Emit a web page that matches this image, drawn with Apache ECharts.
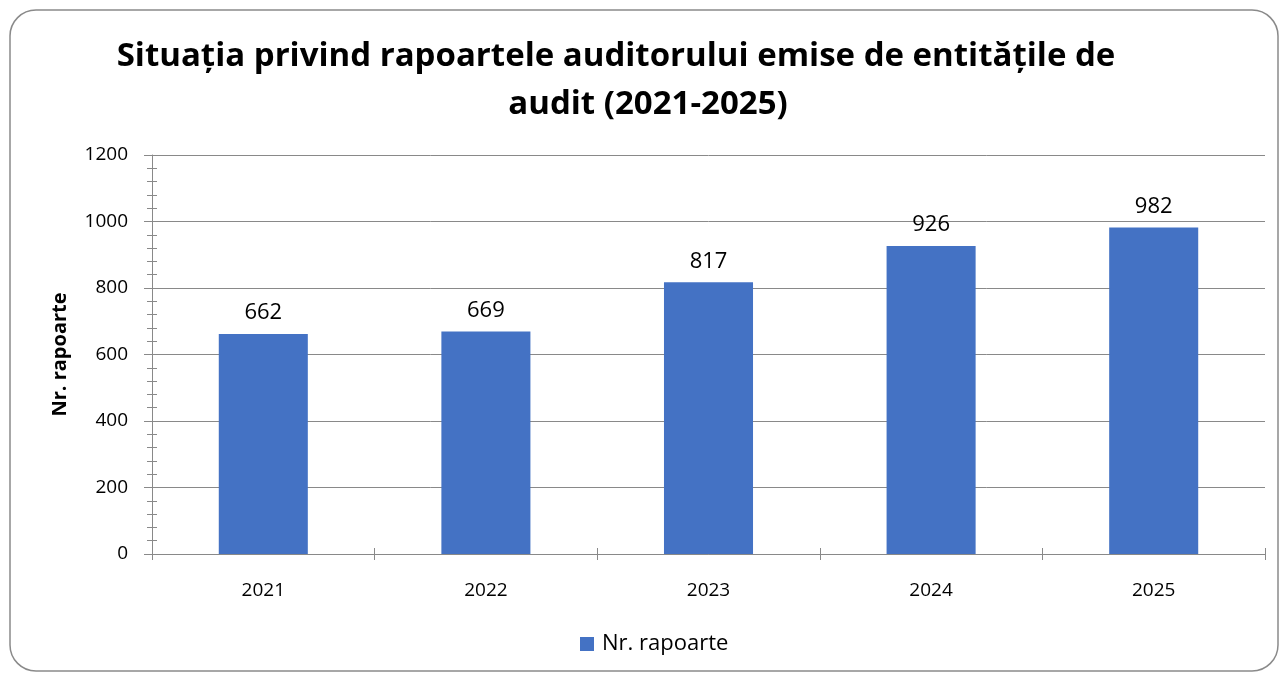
<!DOCTYPE html>
<html>
<head>
<meta charset="utf-8">
<script src="https://cdn.jsdelivr.net/npm/echarts@6/dist/echarts.min.js"></script>
<style>
html,body{margin:0;padding:0;background:#fff;}
#chart{width:1286px;height:677px;}
</style>
</head>
<body>
<div id="chart"></div>
<script>
const categories = ['2021', '2022', '2023', '2024', '2025'];
const values = [662, 669, 817, 926, 982];
const seriesName = 'Nr. rapoarte';
const titleLine1 = 'Situația privind rapoartele auditorului emise de entitățile de';
const titleLine2 = 'audit (2021-2025)';
const yAxisName = 'Nr. rapoarte';

const chart = echarts.init(document.getElementById('chart'));
const axisColor = '#898989';
const font = 'Open Sans';
const titleStyle = { fontFamily: font, fontWeight: 'bold', fontSize: 33, color: '#000' };
chart.setOption({
  backgroundColor: '#fff',
  animation: false,
  graphic: [{
    type: 'rect',
    shape: { x: 10, y: 10, width: 1268, height: 661, r: 26 },
    style: { fill: 'none', stroke: '#8a8a8a', lineWidth: 1.5 },
    z: -1
  }],
  title: [{
    text: titleLine1,
    left: 611,
    textAlign: 'center',
    top: 35,
    textStyle: titleStyle
  }, {
    text: titleLine2,
    left: 643,
    textAlign: 'center',
    top: 83,
    textStyle: titleStyle
  }],
  legend: {
    bottom: 17,
    left: 575,
    icon: 'rect',
    itemWidth: 14,
    itemHeight: 14,
    itemGap: 6,
    textStyle: { fontFamily: font, fontSize: 22, color: '#000', padding: [0, 0, 0, 3] },
    data: [seriesName]
  },
  grid: { left: 152, right: 21, top: 155, bottom: 123, containLabel: false },
  xAxis: [{
    type: 'category',
    data: categories,
    axisLine: { lineStyle: { color: axisColor, width: 1 } },
    axisTick: { show: true, length: 6, lineStyle: { color: axisColor } },
    axisLabel: { fontFamily: font, fontSize: 19, color: '#000', margin: 27 }
  }, {
    type: 'category',
    data: categories,
    position: 'bottom',
    axisLine: { show: false },
    axisTick: { show: true, inside: true, length: 6, lineStyle: { color: axisColor } },
    axisLabel: { show: false }
  }],
  yAxis: [{
    type: 'value',
    min: 0, max: 1200, interval: 200,
    name: yAxisName,
    nameLocation: 'middle',
    nameGap: 82,
    nameTextStyle: { fontFamily: font, fontWeight: 'bold', fontSize: 20, color: '#000' },
    axisLine: { show: true, lineStyle: { color: axisColor } },
    axisTick: { show: true, length: 8, lineStyle: { color: axisColor } },
    minorTick: { show: true, splitNumber: 5, length: 5, lineStyle: { color: axisColor } },
    splitLine: { show: true, lineStyle: { color: axisColor, width: 1 } },
    axisLabel: { fontFamily: font, fontSize: 19, color: '#000', margin: 24, formatter: v => String(v) }
  }, {
    type: 'value',
    min: 0, max: 1200, interval: 200,
    position: 'left',
    axisLine: { show: false },
    axisTick: { show: false, inside: true },
    minorTick: { show: true, splitNumber: 5, length: 5, lineStyle: { color: axisColor } },
    splitLine: { show: false },
    axisLabel: { show: false }
  }],
  series: [{
    name: seriesName,
    type: 'bar',
    data: values,
    barWidth: '40%',
    itemStyle: { color: '#4472C4' },
    label: { show: true, position: 'top', distance: 10, fontFamily: font, fontSize: 22, color: '#000' }
  }]
});
</script>
</body>
</html>
